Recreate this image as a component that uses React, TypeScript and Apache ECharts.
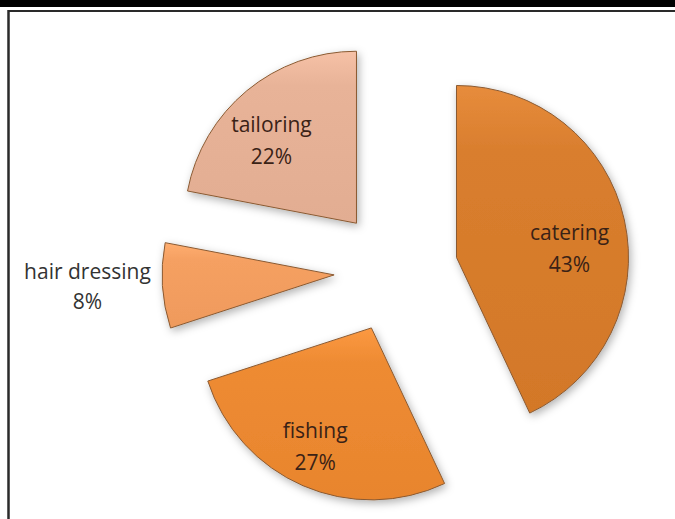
import React, { useEffect, useRef } from "react";
import * as echarts from "echarts";

const categories = ["catering", "fishing", "hair dressing", "tailoring"];
const values = [43, 27, 8, 22];
const colors = ["#D97E2E", "#EE8B33", "#F5A062", "#E8B398"];
const outsideLabel = "hair dressing";

const FONT = "'Open Sans', 'Noto Sans', sans-serif";

function shade(hex: string, amt: number) {
  const n = parseInt(hex.slice(1), 16);
  const f = (c: number) => Math.max(0, Math.min(255, Math.round(c + amt)));
  const r = f((n >> 16) & 255), g = f((n >> 8) & 255), b = f(n & 255);
  return `rgb(${r},${g},${b})`;
}

export default function App() {
  const ref = useRef<HTMLDivElement>(null);

  useEffect(() => {
    const chart = echarts.init(ref.current!, null, { renderer: "svg" });
    const center = [396, 271];
    const R = 172;
    const offset = 62;
    // label nudges (Excel "best fit" placement) per slice: [dx, dy]
    const nudges: Record<string, number[]> = {
      catering: [-8, 18],
      fishing: [-7, 4],
      "hair dressing": [0, 0],
      tailoring: [-6, 12],
    };

    const sliceStyle = {
      borderColor: "#8a5a32",
      borderWidth: 1,
      shadowBlur: 8,
      shadowColor: "rgba(0,0,0,0.3)",
      shadowOffsetX: 2,
      shadowOffsetY: 3,
    };

    const grad = (c: string) => ({
      type: "linear",
      x: 0,
      y: 0,
      x2: 0,
      y2: 1,
      colorStops: [
        { offset: 0, color: shade(c, 14) },
        { offset: 0.2, color: c },
        { offset: 1, color: shade(c, -6) },
      ],
    });

    const fillData = categories.map((name, i) => ({
      name,
      value: values[i],
      selected: true,
      itemStyle: { color: grad(colors[i]) },
    }));

    const labelData = categories.map((name, i) => {
      const item: any = { name, value: values[i], selected: true };
      if (name === outsideLabel) {
        item.label = {
          position: "outside",
          formatter: (p: any) => `{t|${p.name}}\n{t|${Math.round(p.percent)}%}`,
          color: "#333333",
          rich: {
            t: {
              width: 132,
              align: "center",
              fontSize: 21,
              lineHeight: 30,
              fontFamily: FONT,
              color: "#333333",
            },
          },
        };
        item.labelLine = { show: false, length: 2, length2: 2 };
      }
      return item;
    });

    chart.setOption({
      animation: false,
      backgroundColor: "#ffffff",
      graphic: [
        { type: "rect", shape: { x: 0, y: 0, width: 675, height: 7 }, style: { fill: "#000000" } },
        { type: "line", shape: { x1: 8, y1: 11, x2: 675, y2: 11 }, style: { stroke: "#2a2a2a", lineWidth: 2 } },
        { type: "line", shape: { x1: 8.5, y1: 10, x2: 8.5, y2: 519 }, style: { stroke: "#2a2a2a", lineWidth: 2.5 } },
      ],
      series: [
        {
          type: "pie",
          center,
          radius: [0, R],
          startAngle: 90,
          clockwise: true,
          selectedMode: "multiple",
          selectedOffset: offset,
          emphasis: { disabled: true },
          label: { show: false },
          labelLine: { show: false },
          itemStyle: sliceStyle,
          select: { itemStyle: sliceStyle },
          data: fillData,
        },
        {
          type: "pie",
          center,
          radius: [70, R],
          startAngle: 90,
          clockwise: true,
          silent: true,
          selectedMode: "multiple",
          selectedOffset: offset,
          emphasis: { disabled: true },
          itemStyle: { color: "rgba(0,0,0,0)", borderWidth: 0 },
          select: { itemStyle: { color: "rgba(0,0,0,0)", borderWidth: 0 } },
          label: {
            show: true,
            position: "inside",
            formatter: (p: any) => `${p.name}\n${Math.round(p.percent)}%`,
            fontFamily: FONT,
            fontSize: 21,
            lineHeight: 32,
            color: "#3a2216",
            align: "center",
          },
          labelLine: { show: false },
          labelLayout: (p: any) => {
            const n = nudges[categories[p.dataIndex]] || [0, 0];
            return { dx: n[0], dy: n[1] };
          },
          data: labelData,
        },
      ],
    });

    return () => chart.dispose();
  }, []);

  return (
    <div
      ref={ref}
      style={{ position: "absolute", left: 0, top: 0, width: 675, height: 519 }}
    />
  );
}
